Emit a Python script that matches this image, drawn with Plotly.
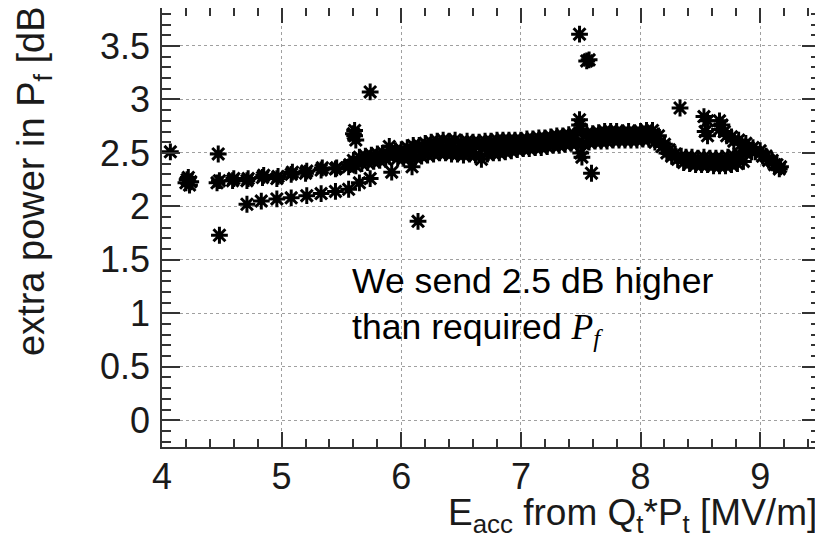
import plotly.graph_objects as go

# ---- data (E_acc [MV/m], extra power [dB]) ----
outlier_x = [4.07, 4.20, 4.22, 4.24, 4.21, 4.23, 4.47, 4.46, 4.48, 4.48,
             5.61, 5.61, 5.62, 5.60, 5.74, 5.90, 6.14, 7.49, 7.55, 7.57,
             7.59, 8.33, 8.53, 8.56, 8.54, 8.56]
outlier_y = [2.51, 2.22, 2.27, 2.23, 2.25, 2.20, 2.49, 2.22, 2.24, 1.73,
             2.71, 2.66, 2.62, 2.68, 3.07, 2.56, 1.86, 3.61, 3.36, 3.37,
             2.31, 2.92, 2.84, 2.80, 2.70, 2.66]

upper_row_x = [4.59, 4.60, 4.71, 4.72, 4.84, 4.85, 4.96, 4.97, 5.08, 5.09,
               5.20, 5.21, 5.33, 5.34, 5.45, 5.46, 5.56, 5.57]
upper_row_y = [2.24, 2.26, 2.24, 2.26, 2.27, 2.29, 2.26, 2.28, 2.30, 2.32,
               2.31, 2.33, 2.34, 2.36, 2.35, 2.36, 2.37, 2.39]

lower_row_x = [4.71, 4.83, 4.96, 5.08, 5.21, 5.33, 5.45, 5.56, 5.65, 5.74,
               5.92, 6.09]
lower_row_y = [2.02, 2.05, 2.07, 2.08, 2.10, 2.12, 2.14, 2.16, 2.22, 2.26,
               2.32, 2.37]

band_top_x = [5.60, 5.65, 5.70, 5.75, 5.80, 5.85, 5.95, 6.00, 6.05, 6.10,
              6.15, 6.20, 6.25, 6.30, 6.35, 6.40, 6.45, 6.50, 6.55, 6.60,
              6.65, 6.70, 6.75, 6.80, 6.85, 6.90, 6.95, 7.00, 7.05, 7.10,
              7.15, 7.20, 7.25, 7.30, 7.35, 7.40, 7.45, 7.55, 7.60, 7.65,
              7.70, 7.75, 7.80, 7.85, 7.90, 7.95, 8.00, 8.05, 8.10]
band_top_y = [2.43, 2.46, 2.47, 2.48, 2.49, 2.50, 2.52, 2.53, 2.55, 2.57,
              2.57, 2.59, 2.60, 2.61, 2.62, 2.61, 2.62, 2.60, 2.61, 2.60,
              2.60, 2.61, 2.61, 2.62, 2.62, 2.62, 2.62, 2.62, 2.63, 2.63,
              2.64, 2.64, 2.65, 2.66, 2.66, 2.67, 2.67, 2.68, 2.68, 2.69,
              2.70, 2.70, 2.70, 2.69, 2.70, 2.69, 2.70, 2.71, 2.71]

band_mid_x = [5.90, 6.00, 6.10, 6.20, 6.30, 6.40, 6.50, 6.60, 6.70, 6.80,
              6.90, 7.00, 7.10, 7.20, 7.30, 7.40, 7.60, 7.70, 7.80, 7.90,
              8.00, 8.10]
band_mid_y = [2.47, 2.49, 2.51, 2.53, 2.55, 2.56, 2.55, 2.54, 2.55, 2.56,
              2.57, 2.58, 2.59, 2.60, 2.61, 2.63, 2.64, 2.65, 2.66, 2.66,
              2.67, 2.66]

band_bot_x = [5.62, 5.67, 5.72, 5.77, 5.82, 5.87, 5.97, 6.02, 6.07, 6.12,
              6.17, 6.22, 6.27, 6.32, 6.37, 6.42, 6.47, 6.52, 6.57, 6.62,
              6.67, 6.72, 6.77, 6.82, 6.87, 6.92, 6.97, 7.02, 7.07, 7.12,
              7.17, 7.22, 7.27, 7.32, 7.37, 7.42, 7.47, 7.52, 7.57, 7.62,
              7.67, 7.72, 7.77, 7.82, 7.87, 7.92, 7.97, 8.02, 8.07, 8.12]
band_bot_y = [2.38, 2.40, 2.41, 2.42, 2.43, 2.44, 2.45, 2.45, 2.46, 2.46,
              2.47, 2.48, 2.49, 2.50, 2.50, 2.49, 2.49, 2.48, 2.49, 2.48,
              2.44, 2.49, 2.50, 2.50, 2.51, 2.52, 2.53, 2.54, 2.54, 2.55,
              2.55, 2.56, 2.57, 2.57, 2.58, 2.59, 2.59, 2.59, 2.60, 2.61,
              2.61, 2.61, 2.62, 2.62, 2.62, 2.62, 2.62, 2.63, 2.63, 2.60]

spike_x = [7.49, 7.49, 7.50, 7.50, 7.51]
spike_y = [2.81, 2.76, 2.72, 2.50, 2.46]

drop_x = [8.15, 8.16, 8.18, 8.20, 8.22, 8.24, 8.26, 8.29, 8.31, 8.34]
drop_y = [2.66, 2.60, 2.56, 2.58, 2.50, 2.53, 2.47, 2.49, 2.44, 2.47]

low_branch_x = [8.38, 8.43, 8.48, 8.53, 8.58, 8.63, 8.68, 8.73, 8.78, 8.83,
                8.88, 8.93, 8.36, 8.41, 8.46, 8.51, 8.56, 8.61, 8.66, 8.71,
                8.76, 8.81, 8.86]
low_branch_y = [2.46, 2.46, 2.45, 2.46, 2.45, 2.45, 2.45, 2.46, 2.47, 2.48,
                2.50, 2.51, 2.41, 2.40, 2.39, 2.39, 2.39, 2.38, 2.38, 2.38,
                2.39, 2.40, 2.42]

up_branch_x = [8.66, 8.68, 8.66, 8.70, 8.72, 8.76, 8.78, 8.82, 8.84, 8.88,
               8.90, 8.94, 8.96, 9.00, 9.02, 9.05, 9.07, 9.10, 9.12, 9.14,
               9.16, 9.17]
up_branch_y = [2.80, 2.76, 2.72, 2.70, 2.66, 2.65, 2.61, 2.62, 2.58, 2.59,
               2.55, 2.55, 2.51, 2.52, 2.47, 2.47, 2.43, 2.43, 2.39, 2.39,
               2.35, 2.37]

x_tick_vals = [4, 5, 6, 7, 8, 9]
y_tick_vals = [0, 0.5, 1, 1.5, 2, 2.5, 3, 3.5]

x_title = "E<sub>acc</sub> from Q<sub>t</sub>*P<sub>t</sub> [MV/m]"
y_title = "extra power in P<sub>f</sub> [dB]"
note_text = ("We send 2.5 dB higher<br>than required "
             "<span style='font-family:Liberation Serif'><i>P<sub>f</sub></i></span>")

all_x = (outlier_x + upper_row_x + lower_row_x + band_top_x + band_mid_x +
         band_bot_x + spike_x + drop_x + low_branch_x + up_branch_x)
all_y = (outlier_y + upper_row_y + lower_row_y + band_top_y + band_mid_y +
         band_bot_y + spike_y + drop_y + low_branch_y + up_branch_y)

FONT = "Liberation Sans, Arial, sans-serif"
AX = "#333333"

fig = go.Figure()
fig.add_trace(go.Scatter(
    x=all_x, y=all_y, mode="markers",
    marker=dict(symbol="asterisk-open", size=14, color="black",
                line=dict(color="black", width=3)),
    showlegend=False, hoverinfo="skip"))

axis_common = dict(
    showline=True, linecolor=AX, linewidth=1.5,
    ticks="inside", tickcolor=AX, tickwidth=1.5, automargin=False,
    showgrid=True, gridcolor="#a0a0a0", griddash="dot", gridwidth=1,
    zeroline=False, tickfont=dict(family=FONT, size=36, color="#1a1a1a"),
)

fig.update_xaxes(range=[4, 9.5], tickvals=x_tick_vals, ticklen=15,
                 mirror="ticks",
                 minor=dict(dtick=0.2, tick0=4, ticks="inside", ticklen=8,
                            tickcolor=AX, tickwidth=1.5, showgrid=False),
                 ticklabelstandoff=-3, **axis_common)
fig.update_yaxes(range=[-0.25, 3.855], tickvals=y_tick_vals, ticklen=18,
                 mirror="allticks",
                 minor=dict(dtick=0.1, tick0=0, ticks="inside", ticklen=9,
                            tickcolor=AX, tickwidth=1.5, showgrid=False),
                 ticklabelstandoff=3, **axis_common)

fig.add_annotation(text=x_title, xref="paper", yref="paper",
                   x=0.4316, y=-0.155, xanchor="left", yanchor="middle",
                   showarrow=False, font=dict(family=FONT, size=37, color="#1a1a1a"))
fig.add_annotation(text=y_title, xref="paper", yref="paper", textangle=-90,
                   x=-0.1945, y=0.2027, xanchor="center", yanchor="bottom",
                   showarrow=False, font=dict(family=FONT, size=38, color="#1a1a1a"))
fig.add_annotation(text=note_text, xref="x", yref="y", x=5.57, y=1.505,
                   xanchor="left", yanchor="top", align="left",
                   showarrow=False, font=dict(family=FONT, size=35.6, color="black"))

# the page adds an 8 px body margin, so the plot area is placed 8 px up/left
fig.update_layout(
    width=823, height=543,
    margin=dict(l=154, r=11, t=0, b=104, autoexpand=False),
    paper_bgcolor="white", plot_bgcolor="white",
)

fig.write_html("out.html")
